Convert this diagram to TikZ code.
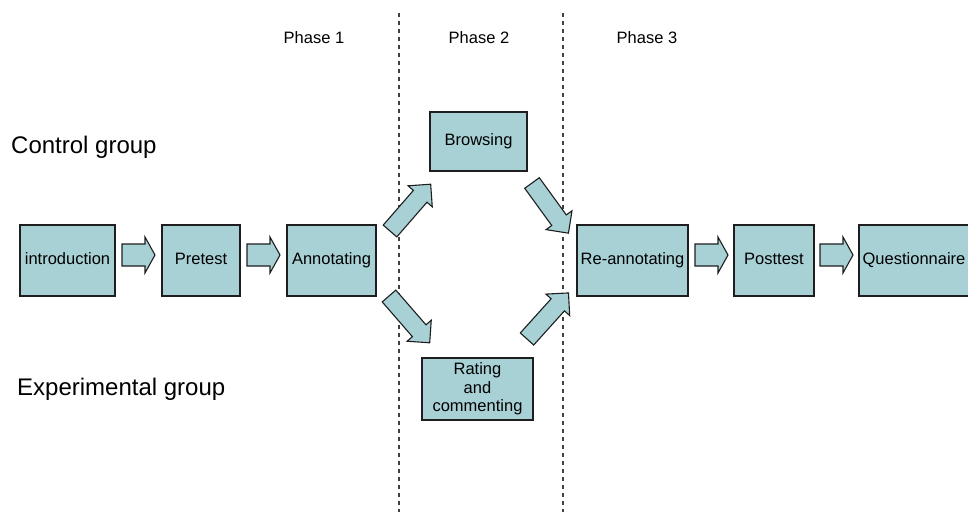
\documentclass[tikz,border=0pt]{standalone}
\usepackage{fontspec}
\setmainfont{Liberation Sans}
\definecolor{boxfill}{RGB}{168,209,213}
\definecolor{edge}{RGB}{30,30,30}
\tikzset{
  stepbox/.style={draw=edge, line width=1.3pt, fill=boxfill, inner sep=2pt, align=center,
    font=\fontsize{16.5}{19}\selectfont},
  oneline/.style={text height=12pt, text depth=3.5pt},
  grouplabel/.style={anchor=base west, inner sep=0pt, font=\fontsize{24}{28}\selectfont},
  phaselabel/.style={anchor=center, inner sep=0pt, font=\fontsize{16.5}{19}\selectfont},
  phaseline/.style={draw=black!75, line width=1.4pt, dash pattern=on 4pt off 4pt},
  blockarr/.pic={
    \draw[draw=edge, line width=1.1pt, fill=boxfill, line join=miter]
      (0,-11) -- (23,-11) -- (23,-18) -- (33,0) -- (23,18) -- (23,11) -- (0,11) -- cycle;
  },
  diagarr/.pic={
    \draw[draw=edge, line width=1.1pt, fill=boxfill, line join=miter]
      (0,-9) -- (46,-9) -- (46,-16) -- (62,0) -- (46,16) -- (46,9) -- (0,9) -- cycle;
  }
}
\begin{document}
\begin{tikzpicture}[x=1pt, y=-1pt]
\useasboundingbox (0,0) rectangle (968,512);
% phase separators
\coordinate (d1top) at (399,13);
\coordinate (d1bot) at (399,512);
\coordinate (d2top) at (563,13);
\coordinate (d2bot) at (563,512);
\draw[phaseline] (d1top) -- (d1bot);
\draw[phaseline] (d2top) -- (d2bot);
% phase labels
\node[phaselabel] (ph1) at (314,38) {Phase 1};
\node[phaselabel] (ph2) at (479,38) {Phase 2};
\node[phaselabel] (ph3) at (647,38) {Phase 3};
% group labels
\node[grouplabel] (cg) at (11,153) {Control group};
\node[grouplabel] (eg) at (17,395) {Experimental group};
% boxes
\node[stepbox, oneline, minimum width=95pt, minimum height=71pt] (intro) at (67.5,260.5) {introduction};
\node[stepbox, oneline, minimum width=78pt, minimum height=71pt] (pre) at (201,260.5) {Pretest};
\node[stepbox, oneline, minimum width=89pt, minimum height=71pt] (ann) at (331.5,260.5) {Annotating};
\node[stepbox, oneline, minimum width=111pt, minimum height=71pt] (reann) at (632.5,260.5) {Re-annotating};
\node[stepbox, oneline, minimum width=80pt, minimum height=71pt] (post) at (774,260.5) {Posttest};
\node[stepbox, oneline, minimum width=110pt, minimum height=71pt] (quest) at (914,260.5) {Questionnaire};
\node[stepbox, oneline, minimum width=97pt, minimum height=59pt] (browse) at (478.5,141.5) {Browsing};
\node[stepbox, minimum width=111pt, minimum height=62pt, font=\fontsize{16.5}{18.5}\selectfont] (rate) at (477.5,389) {Rating\\and\\commenting};
% horizontal block arrows
\pic at (122,255) {blockarr};
\pic at (247,255) {blockarr};
\pic at (695,255) {blockarr};
\pic at (820,255) {blockarr};
% diagonal block arrows
\pic[rotate=49] at (390,231) {diagarr};
\pic[rotate=-54] at (532,183) {diagarr};
\pic[rotate=-49] at (389,296) {diagarr};
\pic[rotate=48] at (527,339) {diagarr};
\end{tikzpicture}
\end{document}
